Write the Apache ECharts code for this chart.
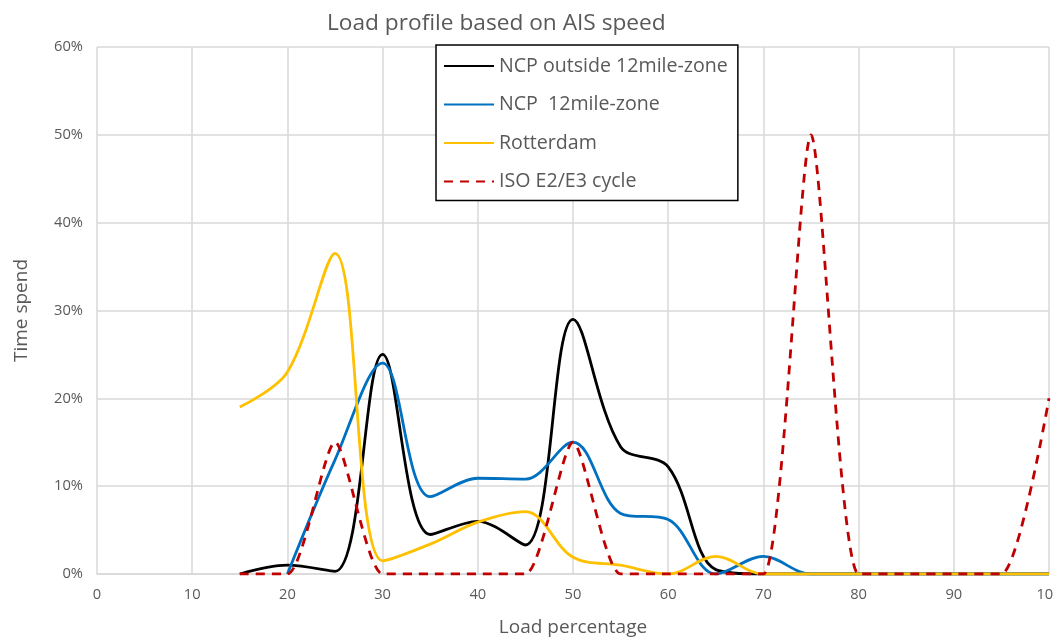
<!DOCTYPE html>
<html>
<head>
<meta charset="utf-8">
<script src="https://cdn.jsdelivr.net/npm/echarts@6/dist/echarts.min.js"></script>
<style>html,body{margin:0;padding:0;background:#fff;overflow:hidden}#chart{width:1054px;height:639px}</style>
</head>
<body>
<div id="chart"></div>
<script>
const loadPct = [15, 20, 25, 30, 35, 40, 45, 50, 55, 60, 65, 70, 75, 80, 85, 90, 95, 100];
const ncpOutside = [0, 1, 0.3, 25, 4.5, 6, 3.3, 29, 14.5, 12.2, 0.5, 0, 0, 0, 0, 0, 0, 0];
const ncpZone = [null, 0, 13, 24, 8.8, 10.9, 10.8, 15, 6.9, 6.2, 0, 2, 0, 0, 0, 0, 0, 0];
const rotterdam = [19, 23, 36.5, 1.5, 3.4, 5.9, 7.1, 1.9, 1, 0, 2, 0, 0, 0, 0, 0, 0, 0];
const isoCycle = [0, 0, 15, 0, 0, 0, 0, 15, 0, 0, 0, 0, 50, 0, 0, 0, 0, 20];
const xTicks = [0, 10, 20, 30, 40, 50, 60, 70, 80, 90, 100];
const yTicks = [0, 10, 20, 30, 40, 50, 60];
const seriesNames = ['NCP outside 12mile-zone', 'NCP  12mile-zone', 'Rotterdam', 'ISO E2/E3 cycle'];

const pairs = vals => loadPct.map((x, i) => [x, vals[i]]);
const FONT = '"Open Sans", Lato, sans-serif';
const GREY = '#595959';

const chart = echarts.init(document.getElementById('chart'), null, {renderer: 'canvas', width: 1054, height: 639});
const mk = (name, vals, color, dash, smooth) => ({
  name, type: 'line', data: pairs(vals), smooth, symbol: 'none',
  lineStyle: {color, width: 2.8, type: dash ? [9, 7] : 'solid'},
  itemStyle: {color}, z: 2, emphasis: {disabled: true}
});
chart.setOption({
  animation: false,
  backgroundColor: '#fff',
  title: {
    text: 'Load profile based on AIS speed', left: 322, top: 7,
    textStyle: {fontFamily: FONT, fontSize: 22.7, fontWeight: 'normal', color: GREY}
  },
  grid: {left: 97, right: 5, top: 47, bottom: 65, containLabel: false, outerBoundsMode: 'none'},
  legend: {
    orient: 'vertical', left: 436, top: 45,
    padding: [11, 10, 9, 7],
    itemWidth: 50, itemHeight: 14, itemGap: 18.5,
    backgroundColor: '#fff', borderColor: '#000', borderWidth: 1.5,
    itemStyle: {opacity: 0},
    textStyle: {fontFamily: FONT, fontSize: 19.6, color: GREY},
    data: seriesNames, z: 5
  },
  xAxis: {
    type: 'value', min: xTicks[0], max: xTicks[xTicks.length - 1], interval: 10,
    name: 'Load percentage', nameLocation: 'middle', nameGap: 44,
    nameTextStyle: {fontFamily: FONT, fontSize: 19, color: GREY},
    axisLine: {show: true, lineStyle: {color: '#d9d9d9', width: 1.5}},
    axisTick: {show: false},
    axisLabel: {fontFamily: FONT, fontSize: 14.7, color: GREY, margin: 13},
    splitLine: {show: true, lineStyle: {color: '#d9d9d9', width: 1.5}}
  },
  yAxis: {
    type: 'value', min: yTicks[0], max: yTicks[yTicks.length - 1], interval: 10,
    name: 'Time spend', nameLocation: 'middle', nameGap: 66,
    nameTextStyle: {fontFamily: FONT, fontSize: 19, color: GREY},
    axisLine: {show: false},
    axisTick: {show: false},
    axisLabel: {fontFamily: FONT, fontSize: 14.7, color: GREY, margin: 14, formatter: '{value}%'},
    splitLine: {show: true, lineStyle: {color: '#d9d9d9', width: 1.5}}
  },
  series: [
    mk(seriesNames[0], ncpOutside, '#000000', false, 0.35),
    mk(seriesNames[1], ncpZone, '#0070C0', false, 0.35),
    mk(seriesNames[2], rotterdam, '#FFC000', false, 0.35),
    mk(seriesNames[3], isoCycle, '#C00000', true, 0.22)
  ]
});
</script>
</body>
</html>
